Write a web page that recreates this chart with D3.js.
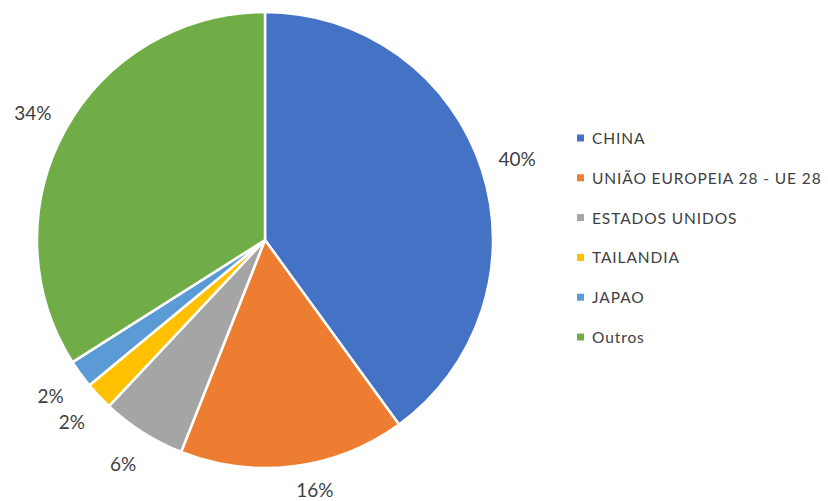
<!DOCTYPE html>
<html><head><meta charset="utf-8">
<script src="https://cdn.jsdelivr.net/npm/d3@7"></script>
<style>body{margin:0;background:#fff;}svg{display:block;}</style>
</head><body>
<svg id="c" width="828" height="501"></svg>
<script>
const categories = ["CHINA","UNIÃO EUROPEIA 28 - UE 28","ESTADOS UNIDOS","TAILANDIA","JAPAO","Outros"];
const values = [40,16,6,2,2,34];
const labels = ["40%","16%","6%","2%","2%","34%"];
const colors = ["#4472C4","#ED7D31","#A5A5A5","#FFC000","#5B9BD5","#70AD47"];

const svg = d3.select("#c");
const cx = 265, cy = 240, R = 228, LR = 265, maxLabelY = 249;
const pie = d3.pie().sort(null).value(d => d)(values);
const arc = d3.arc().innerRadius(0).outerRadius(R);
const labelArc = d3.arc().innerRadius(LR).outerRadius(LR);
const g = svg.append("g").attr("transform", `translate(${cx},${cy})`);
g.selectAll("path").data(pie).join("path")
  .attr("d", arc).attr("fill", (d,i) => colors[i])
  .attr("stroke", "#fff").attr("stroke-width", 2.5).attr("stroke-linejoin","round");
g.selectAll("text").data(pie).join("text")
  .attr("transform", d => {
    let [x, y] = labelArc.centroid(d);
    if (y > maxLabelY) { x += (y - maxLabelY) * 1.2; y = maxLabelY; }
    return `translate(${x},${y})`;
  })
  .attr("text-anchor","middle").attr("dominant-baseline","central")
  .attr("font-family","Lato, 'Open Sans', sans-serif").attr("font-size",19)
  .attr("fill","#404040").text((d,i) => labels[i]);

const y = d3.scalePoint().domain(categories).range([138, 337]);
const lg = svg.append("g");
const items = lg.selectAll("g").data(categories).join("g")
  .attr("transform", d => `translate(577,${y(d)})`);
items.append("rect").attr("x",0).attr("y",-3.5).attr("width",7).attr("height",7)
  .attr("fill", (d,i) => colors[i]);
items.append("text").attr("x",15).attr("y",0).attr("dominant-baseline","central")
  .attr("font-family","Lato, 'Open Sans', sans-serif").attr("font-size",15.5)
  .attr("letter-spacing",0.9)
  .attr("fill","#404040").text(d => d);
</script>
</body></html>
